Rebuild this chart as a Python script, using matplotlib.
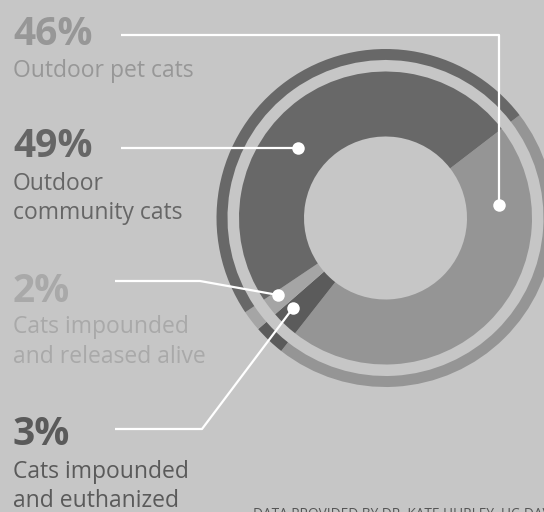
#imports
import matplotlib.pyplot as plt

#data
shares = [46, 3, 2, 49]   # clockwise from upper right
pct_labels = ["46%", "3%", "2%", "49%"]
names = ["Outdoor pet cats", "Cats impounded\nand euthanized",
         "Cats impounded\nand released alive", "Outdoor\ncommunity cats"]
slice_colors = ["#959595", "#5b5b5b", "#a5a5a5", "#686868"]
text_colors = ["#979797", "#5a5a5a", "#a9a9a9", "#666666"]
source = "DATA PROVIDED BY DR. KATE HURLEY, UC-DAVIS"

#figure, drawn in pixel coordinates (y measured from the top)
W, H = 544, 512
bg = "#c6c6c6"
fig = plt.figure(figsize=(W / 100, H / 100), dpi=100, facecolor=bg)
ax = fig.add_axes([0, 0, 1, 1])

def py(y):
    return H - y

cx, cy = 385.5, 218
start = 37.5

#main ring and thin outer ring
ax.pie(shares, colors=slice_colors, startangle=start, counterclock=False,
       center=(cx, py(cy)), radius=146.5, frame=True,
       wedgeprops=dict(width=65, linewidth=0))
ax.pie(shares, colors=slice_colors, startangle=start, counterclock=False,
       center=(cx, py(cy)), radius=169, frame=True,
       wedgeprops=dict(width=11, linewidth=0))
ax.set_xlim(0, W)
ax.set_ylim(0, H)
ax.set_aspect("equal")
ax.axis("off")

#text blocks: percentage, then name lines
blocks = {
    "46%": (45, [77]),
    "49%": (157, [190, 219]),
    "2%": (302, [333, 363]),
    "3%": (445, [478, 507]),
}
for i, p in enumerate(pct_labels):
    base, lines = blocks[p]
    ax.text(13, py(base), p, fontsize=28, fontweight="bold", family="Open Sans",
            color=text_colors[i], va="baseline", ha="left")
    for ln, b in zip(names[i].split("\n"), lines):
        ax.text(13, py(b), ln, fontsize=16.5, family="Open Sans",
                color=text_colors[i], va="baseline", ha="left")

#leader lines with dots
leaders = [
    [(121, 35), (499, 35), (499, 205)],
    [(121, 148), (298, 148)],
    [(115, 281), (200, 281), (278, 295)],
    [(115, 429), (202, 429), (293, 308)],
]
for pts in leaders:
    xs = [p[0] for p in pts]
    ys = [py(p[1]) for p in pts]
    ax.plot(xs, ys, color="white", lw=1.6, solid_capstyle="butt")
    ax.plot(xs[-1], ys[-1], "o", color="white", ms=9, mec="none")

#source note, running off the bottom right corner as in the original
ax.text(253, py(506.5), source, fontsize=9.8, family="Open Sans",
        color="#555555", va="top", ha="left")

fig.savefig("out.png", dpi=100, facecolor=bg)
